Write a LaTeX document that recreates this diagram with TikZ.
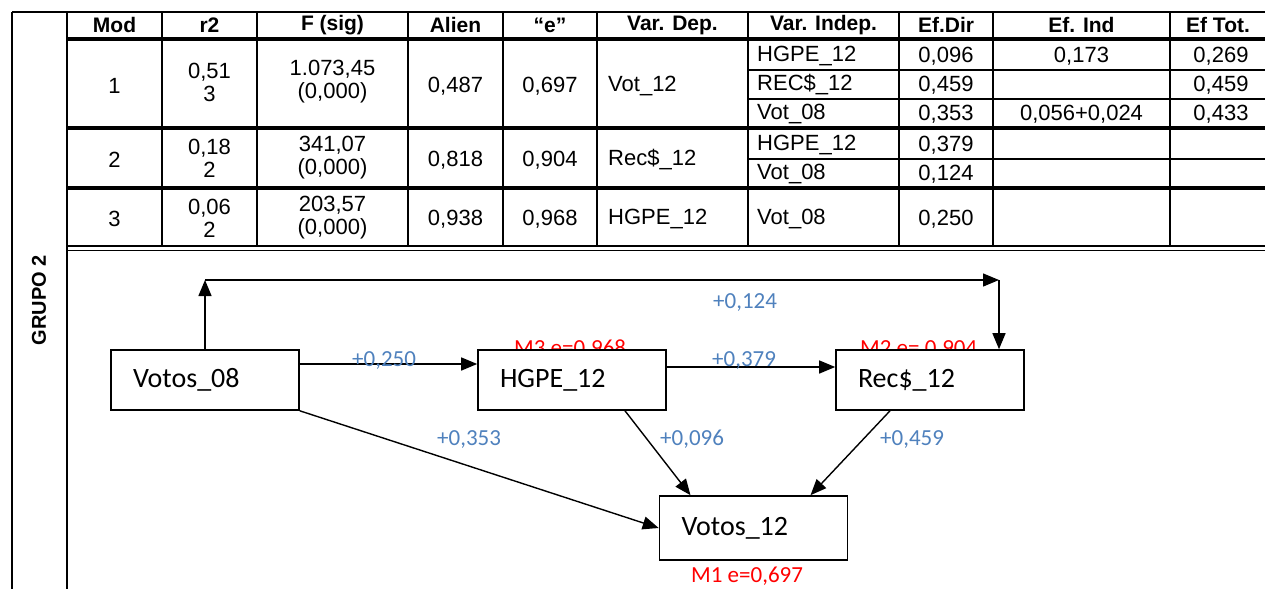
\documentclass[tikz,border=0pt]{standalone}
\usepackage{fontspec}
\setmainfont{Liberation Sans}
\newfontfamily\calib{Carlito}
\usetikzlibrary{arrows.meta}
\definecolor{valblue}{RGB}{79,129,189}

\tikzset{
  tabline/.style={line width=1.4pt},
  tabsep/.style={line width=3.5pt},
  cell/.style={font=\fontsize{22}{23}\selectfont, inner sep=0pt, align=center},
  head/.style={font=\bfseries\fontsize{21}{23}\selectfont, inner sep=0pt},
  box/.style={draw, line width=1.6pt, fill=white, font=\calib\fontsize{28}{30}\selectfont,
    minimum height=60pt, text width=144pt, inner xsep=22pt, align=left},
  arr/.style={line width=1.4pt, -{Triangle[length=16pt,width=13pt]}},
  vlab/.style={text=valblue, font=\calib\fontsize{23}{25}\selectfont, inner sep=0pt, anchor=base west},
  mlab/.style={text=red, font=\calib\fontsize{23}{25}\selectfont, inner sep=0pt, anchor=base west}
}

\begin{document}
\begin{tikzpicture}[x=1pt, y=-1pt]
    \useasboundingbox (0,0) rectangle (1265,589);

    % Table lines
    \draw[tabline] (12,12) -- (1265,12);
    \draw[tabline] (12,12) -- (12,589);
    \draw[tabline] (67,12) -- (67,589);
    \foreach \x in {162,257,408,503,597,748,899,993,1170} {
        \draw[tabline] (\x,12) -- (\x,247);
    }
    \foreach \y in {39,128,188} {
        \draw[tabsep] (67,\y) -- (1265,\y);
    }
    \foreach \y in {70,99,159} {
        \draw[tabline] (748,\y) -- (1265,\y);
    }
    \draw[tabline] (67,246) -- (1265,246);
    \draw[tabline] (67,250.5) -- (1265,250.5);

    % Header
    \node[head, rotate=90, font=\bfseries\fontsize{20}{22}\selectfont] (grupo) at (39,300) {GRUPO 2};
    \node[head] (hmod) at (114.5,25) {Mod};
    \node[head] (hr2) at (209.5,25) {r2};
    \node[head] (hf) at (332.5,25) {F (sig)};
    \node[head] (hal) at (455.5,25) {Alien};
    \node[head] (he) at (550,25) {“e”};
    \node[head] (hdep) at (672.5,25) {Var. Dep.};
    \node[head] (hind) at (823.5,25) {Var. Indep.};
    \node[head] (hdir) at (946,25) {Ef.Dir};
    \node[head] (hefi) at (1081.5,25) {Ef. Ind};
    \node[head] (htot) at (1218,25) {Ef Tot.};

    % Model 1
    \node[cell] (mod1) at (114.5,86) {1};
    \node[cell] (r21) at (209.5,82) {0,51\\3};
    \node[cell] (f1) at (332.5,82) {1.073,45\\(0,000)};
    \node[cell] (al1) at (455.5,86) {0,487};
    \node[cell] (e1) at (550,86) {0,697};
    \node[cell, anchor=west] (dep1) at (608,86) {Vot\_12};
    \node[cell, anchor=west] (ind1a) at (757,56) {HGPE\_12};
    \node[cell, anchor=west] (ind1b) at (757,85) {REC\$\_12};
    \node[cell, anchor=west] (ind1c) at (757,114) {Vot\_08};
    \node[cell] (dir1a) at (946,56) {0,096};
    \node[cell] (dir1b) at (946,85) {0,459};
    \node[cell] (dir1c) at (946,114) {0,353};
    \node[cell] (efi1a) at (1081.5,56) {0,173};
    \node[cell] (efi1c) at (1081.5,114) {0,056+0,024};
    \node[cell] (tot1a) at (1221,56) {0,269};
    \node[cell] (tot1b) at (1221,85) {0,459};
    \node[cell] (tot1c) at (1221,114) {0,433};

    % Model 2
    \node[cell] (mod2) at (114.5,160) {2};
    \node[cell] (r22) at (209.5,158) {0,18\\2};
    \node[cell] (f2) at (332.5,158) {341,07\\(0,000)};
    \node[cell] (al2) at (455.5,160) {0,818};
    \node[cell] (e2) at (550,160) {0,904};
    \node[cell, anchor=west] (dep2) at (608,160) {Rec\$\_12};
    \node[cell, anchor=west] (ind2a) at (757,145) {HGPE\_12};
    \node[cell, anchor=west] (ind2b) at (757,174) {Vot\_08};
    \node[cell] (dir2a) at (946,145) {0,379};
    \node[cell] (dir2b) at (946,174) {0,124};

    % Model 3
    \node[cell] (mod3) at (114.5,219) {3};
    \node[cell] (r23) at (209.5,218) {0,06\\2};
    \node[cell] (f3) at (332.5,218) {203,57\\(0,000)};
    \node[cell] (al3) at (455.5,219) {0,938};
    \node[cell] (e3) at (550,219) {0,968};
    \node[cell, anchor=west] (dep3) at (608,219) {HGPE\_12};
    \node[cell, anchor=west] (ind3) at (757,219) {Vot\_08};
    \node[cell] (dir3) at (946,219) {0,250};

    % Residual labels (behind the boxes)
    \node[mlab] (m3) at (514,355) {M3 e=0.968};
    \node[mlab] (m2) at (860,355) {M2 e= 0.904};

    % Path diagram
    \node[box] (v08) at (205,380) {Votos\_08};
    \node[box] (hgpe) at (572,380) {HGPE\_12};
    \node[box] (rec) at (930,380) {Rec\$\_12};
    \node[box, minimum height=64pt] (v12) at (753.5,528) {Votos\_12};
    \node[mlab] (m1) at (691,582) {M1 e=0,697};

    \coordinate (up2) at (999,280);
    \coordinate (up1) at (v08.north |- up2);
    \draw[arr] (v08.north) -- (up1);
    \draw[arr] (up1) -- (up2);
    \draw[arr] (up2) -- (up2 |- rec.north);
    \draw[arr] ([yshift=16pt]v08.east) -- ([yshift=16pt]hgpe.west);
    \draw[arr] ([yshift=13pt]hgpe.east) -- ([yshift=13pt]rec.west);
    \draw[arr] (v08.south east) -- (v12.west);
    \draw[arr] ([xshift=53pt]hgpe.south) -- ([xshift=-63pt]v12.north);
    \draw[arr] ([xshift=-40pt]rec.south) -- ([xshift=57pt]v12.north);

    % Coefficients
    \node[vlab] (c250) at (352,366) {+0,250};
    \node[vlab] (c379) at (712,366) {+0,379};
    \node[vlab] (c124) at (713,308) {+0,124};
    \node[vlab] (c353) at (437,445) {+0,353};
    \node[vlab] (c096) at (660,445) {+0,096};
    \node[vlab] (c459) at (880,445) {+0,459};

\end{tikzpicture}
\end{document}
